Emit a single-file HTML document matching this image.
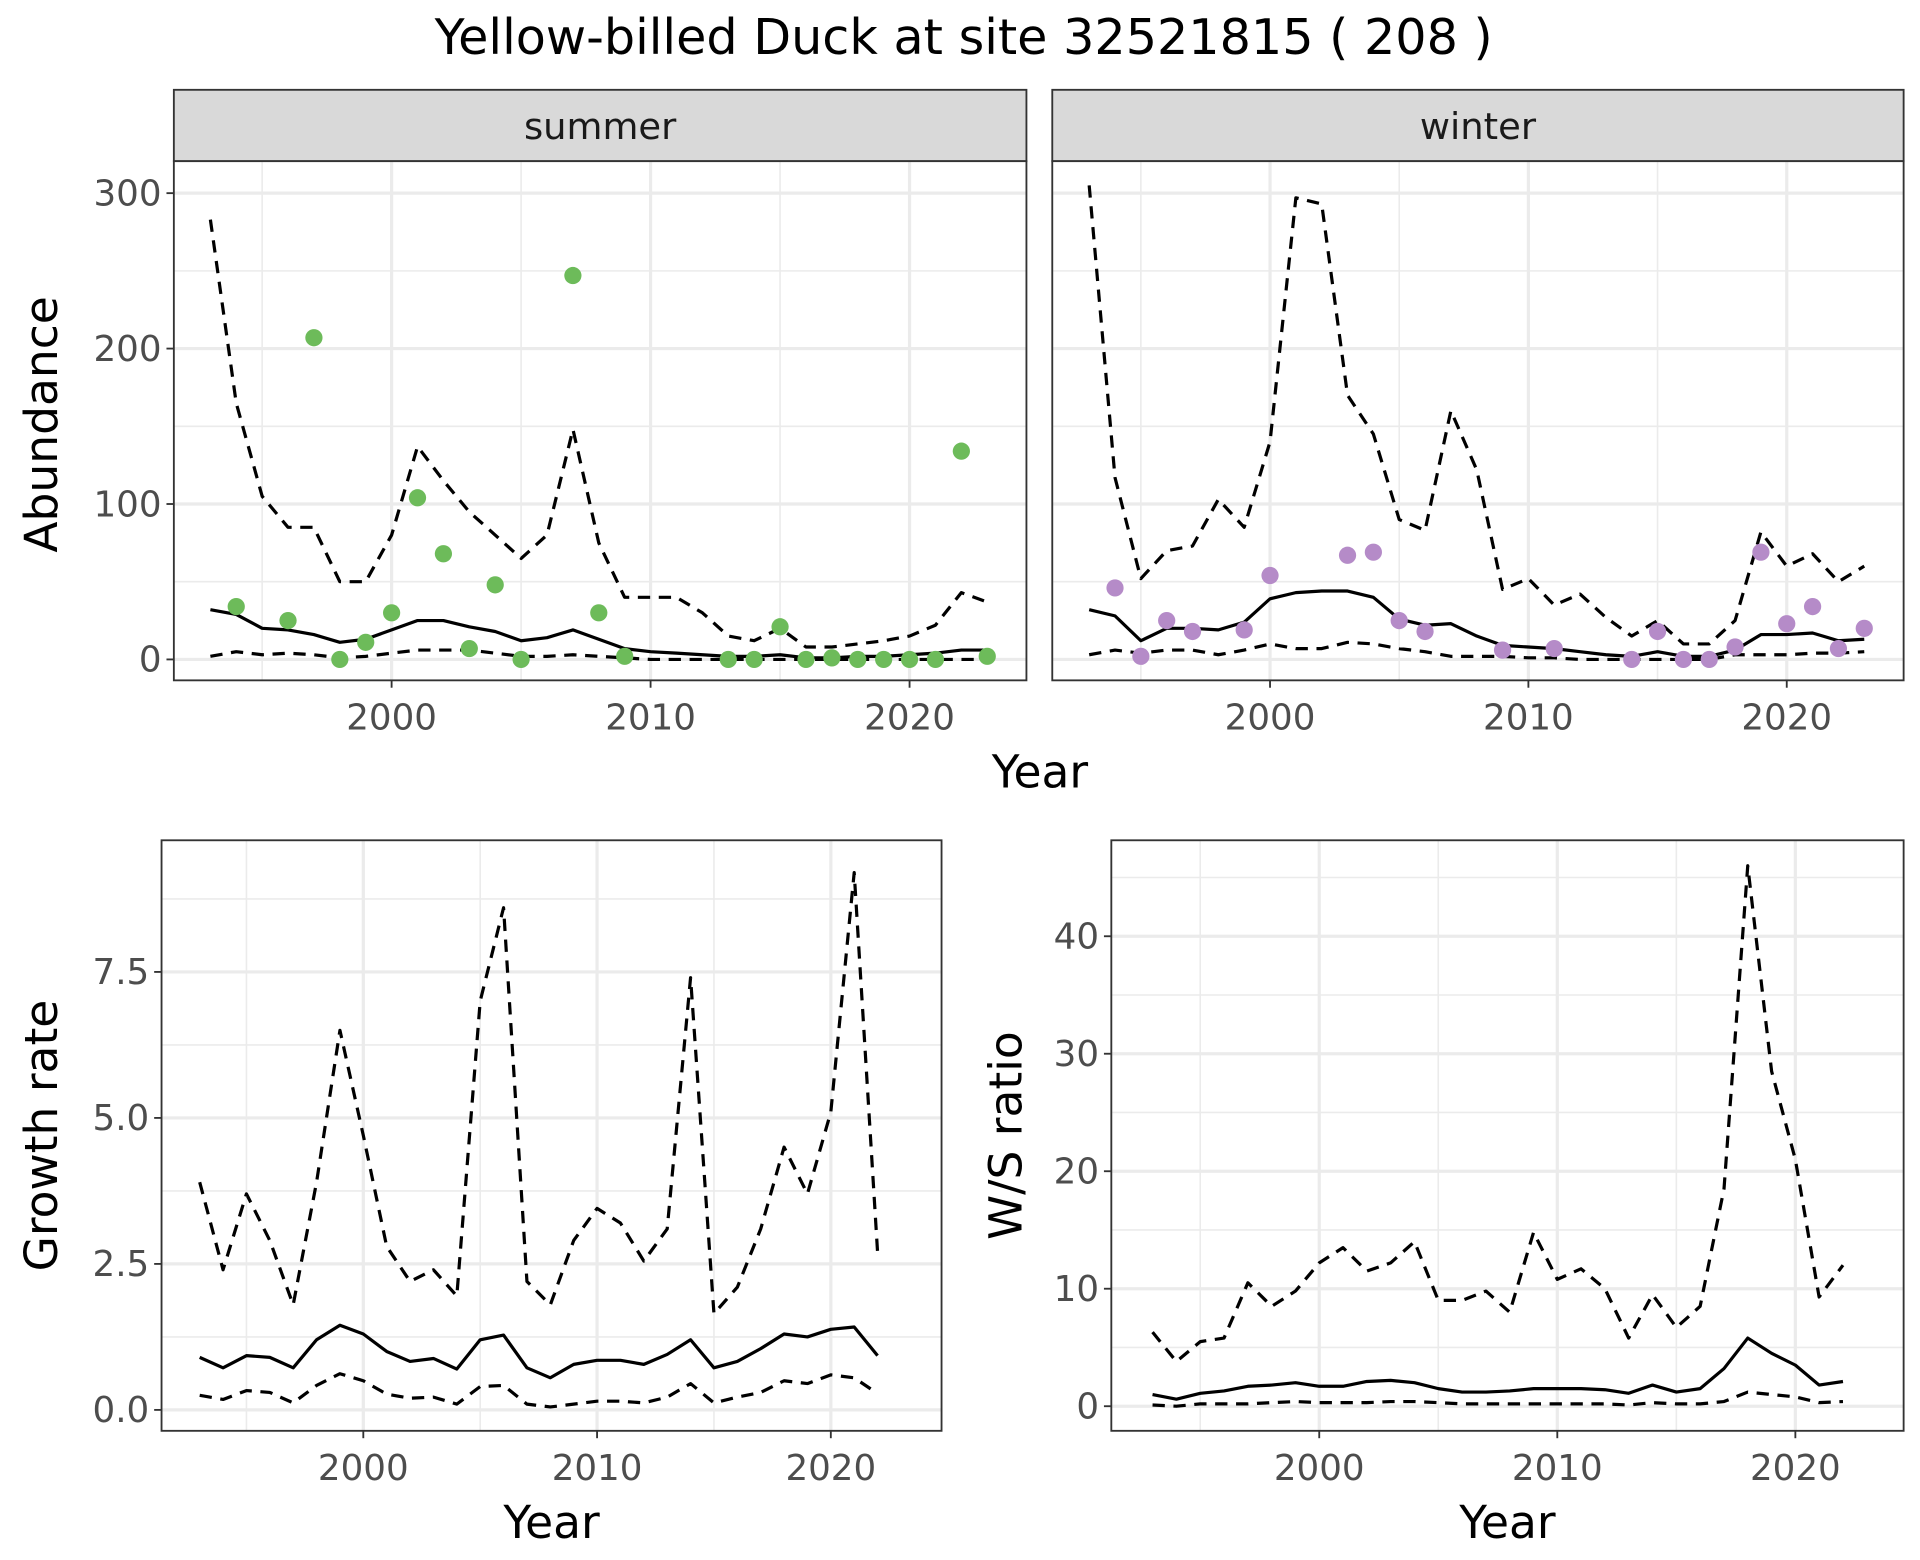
<!DOCTYPE html>
<html><head><meta charset="utf-8"><style>
html,body{margin:0;padding:0;background:#fff;}
svg{display:block;font-family:"DejaVu Sans","Liberation Sans",sans-serif;}
</style></head><body>
<svg id="chart" width="1920" height="1560" viewBox="0 0 1560 1268">
<text x="783" y="44" font-size="40" text-anchor="middle" fill="#000">Yellow-billed Duck at site 32521815 ( 208 )</text>
</svg>
<script>
const NS="http://www.w3.org/2000/svg";
const svg=document.getElementById('chart');
// ---- data ----
const yearsFull=[1993,1994,1995,1996,1997,1998,1999,2000,2001,2002,2003,2004,2005,2006,2007,2008,2009,2010,2011,2012,2013,2014,2015,2016,2017,2018,2019,2020,2021,2022,2023];
const summerUpper=[283,165,105,85,85,50,50,80,137,115,95,80,65,80,148,75,40,40,40,30,15,12,20,8,8,10,12,15,22,43,37];
const summerMean=[32,29,20,19,16,11,13,19,25,25,21,18,12,14,19,13,7,5,4,3,2,2,3,1,1,2,2,3,4,6,6];
const summerLower=[2,5,3,4,3,1,2,4,6,6,6,4,2,2,3,2,1,0,0,0,0,0,0,0,0,0,0,0,0,0,0];
const summerPtYears=[1994,1996,1997,1998,1999,2000,2001,2002,2003,2004,2005,2007,2008,2009,2013,2014,2015,2016,2017,2018,2019,2020,2021,2022,2023];
const summerPtVals=[34,25,207,0,11,30,104,68,7,48,0,247,30,2,0,0,21,0,1,0,0,0,0,134,2];
const winterUpper=[305,117,52,70,73,103,85,140,297,293,170,145,90,83,160,122,45,52,35,42,27,15,25,10,10,25,82,60,68,50,60];
const winterMean=[32,28,12,20,20,19,24,39,43,44,44,40,26,22,23,15,9,8,7,5,3,2,5,2,2,6,16,16,17,12,13];
const winterLower=[3,6,4,6,6,3,6,10,7,7,11,10,7,5,2,2,2,1,1,0,0,0,0,0,0,3,3,3,4,4,5];
const winterPtYears=[1994,1995,1996,1997,1999,2000,2003,2004,2005,2006,2009,2011,2014,2015,2016,2017,2018,2019,2020,2021,2022,2023];
const winterPtVals=[46,2,25,18,19,54,67,69,25,18,6,7,0,18,0,0,8,69,23,34,7,20];
const yearsShort=[1993,1994,1995,1996,1997,1998,1999,2000,2001,2002,2003,2004,2005,2006,2007,2008,2009,2010,2011,2012,2013,2014,2015,2016,2017,2018,2019,2020,2021,2022];
const growthUpper=[3.9,2.4,3.7,2.9,1.8,3.9,6.5,4.7,2.8,2.2,2.4,1.95,7.0,8.6,2.2,1.8,2.9,3.45,3.2,2.55,3.1,7.4,1.65,2.1,3.1,4.5,3.7,5.1,9.2,2.7];
const growthMean=[0.9,0.72,0.93,0.9,0.72,1.2,1.45,1.3,1.0,0.83,0.88,0.7,1.2,1.28,0.72,0.55,0.78,0.85,0.85,0.78,0.95,1.2,0.72,0.83,1.05,1.3,1.25,1.38,1.42,0.93];
const growthLower=[0.25,0.18,0.33,0.3,0.12,0.42,0.62,0.5,0.27,0.2,0.22,0.1,0.4,0.42,0.1,0.05,0.1,0.15,0.15,0.12,0.22,0.45,0.12,0.22,0.3,0.5,0.45,0.6,0.55,0.28];
const ratioUpper=[6.3,3.8,5.5,5.8,10.5,8.5,9.8,12.2,13.5,11.5,12.2,14,9,9,9.8,8,14.8,10.8,11.7,10,5.8,9.5,6.7,8.5,18.5,46,28.5,21,9.3,12];
const ratioMean=[1,0.6,1.1,1.3,1.7,1.8,2,1.7,1.7,2.1,2.2,2,1.5,1.2,1.2,1.3,1.5,1.5,1.5,1.4,1.1,1.8,1.2,1.5,3.2,5.8,4.5,3.5,1.8,2.1];
const ratioLower=[0.1,0,0.2,0.2,0.2,0.3,0.4,0.3,0.3,0.3,0.4,0.4,0.3,0.2,0.2,0.2,0.2,0.2,0.2,0.2,0.1,0.3,0.2,0.2,0.4,1.2,1,0.8,0.3,0.4];
const xTicks=[2000,2010,2020];
const xMinor=[1995,2005,2015];
const abTicks=[0,100,200,300];
const abMinor=[50,150,250];
const grTicks=[0,2.5,5,7.5];
const grTickLabels=["0.0","2.5","5.0","7.5"];
const grMinor=[1.25,3.75,6.25,8.75];
const raTicks=[0,10,20,30,40];
const raMinor=[5,15,25,35,45];

function el(tag,attrs,name,parent){const e=document.createElementNS(NS,tag);for(const k in attrs)e.setAttribute(k,attrs[k]);


(parent||svg).appendChild(e);return e;}
function txt(x,y,s,size,anchor,fill,name,rot){const t=el('text',{x:x,y:y,'font-size':size,'text-anchor':anchor,fill:fill},name);t.textContent=s;if(rot)t.setAttribute('transform',`rotate(-90 ${x} ${y})`);return t;}

function panel(p){
  const {x0,x1,y0,y1,xs,ys,name}=p;
  el('rect',{x:x0,y:y0,width:x1-x0,height:y1-y0,fill:'#fff'},name+'-background');
  p.minY.forEach(v=>{const y=ys(v);if(y>y0&&y<y1)el('line',{x1:x0,x2:x1,y1:y,y2:y,stroke:'#EBEBEB','stroke-width':1.3},name+'-minor-gridline');});
  xMinor.forEach(v=>{const x=xs(v);el('line',{x1:x,x2:x,y1:y0,y2:y1,stroke:'#EBEBEB','stroke-width':1.3},name+'-minor-gridline');});
  p.majY.forEach(v=>{const y=ys(v);el('line',{x1:x0,x2:x1,y1:y,y2:y,stroke:'#EBEBEB','stroke-width':2.6},name+'-major-gridline');});
  xTicks.forEach(v=>{const x=xs(v);el('line',{x1:x,x2:x,y1:y0,y2:y1,stroke:'#EBEBEB','stroke-width':2.6},name+'-major-gridline');});
  const line=(xsArr,vals,dash,nm)=>{const d=vals.map((v,i)=>(i?'L':'M')+xs(xsArr[i]).toFixed(1)+','+ys(v).toFixed(1)).join(' ');
    const a={d:d,fill:'none',stroke:'#000','stroke-width':2.6,'stroke-linejoin':'round'};if(dash)a['stroke-dasharray']='10,7';el('path',a,name+'-'+nm);};
  p.lines.forEach(l=>line(l[0],l[1],l[2],l[3]));
  if(p.pts){p.pts[0].forEach((yr,i)=>el('circle',{cx:xs(yr),cy:ys(p.pts[1][i]),r:7,fill:p.ptColor},name+'-observed-point'));}
  el('rect',{x:x0,y:y0,width:x1-x0,height:y1-y0,fill:'none',stroke:'#333','stroke-width':1.5},name+'-border');
  if(p.showY){p.majY.forEach((v,i)=>{const y=ys(v);el('line',{x1:x0-6,x2:x0,y1:y,y2:y,stroke:'#333','stroke-width':1.5},name+'-y-tick');
    txt(x0-10,y+10,p.yLabels[i],29,'end','#4D4D4D',name+'-y-tick-label');});}
  xTicks.forEach(v=>{const x=xs(v);el('line',{x1:x,x2:x,y1:y1,y2:y1+6,stroke:'#333','stroke-width':1.5},name+'-x-tick');
    txt(x,y1+40,String(v),29,'middle','#4D4D4D',name+'-x-tick-label');});
}
function lin(a0,p0,a1,p1){return v=>p0+(v-a0)*(p1-p0)/(a1-a0);}

// top panels
const abY=lin(0,536,300,157);
[['summer',141,834,lin(2000,318,2020,739),summerUpper,summerMean,summerLower,summerPtYears,summerPtVals,'#6DBB5A',true],
 ['winter',855,1547,lin(2000,1032,2020,1452),winterUpper,winterMean,winterLower,winterPtYears,winterPtVals,'#B58BC8',false]].forEach(c=>{
  el('rect',{x:c[1],y:73,width:c[2]-c[1],height:58,fill:'#D9D9D9',stroke:'#333','stroke-width':1.5},c[0]+'-strip');
  txt((c[1]+c[2])/2,113,c[0],30,'middle','#1A1A1A',c[0]+'-strip-label');
  panel({name:c[0]+'-panel',x0:c[1],x1:c[2],y0:131,y1:553,xs:c[3],ys:abY,majY:abTicks,minY:abMinor,yLabels:abTicks.map(String),showY:c[10],
    lines:[[yearsFull,c[4],true,'upper-line'],[yearsFull,c[5],false,'mean-line'],[yearsFull,c[6],true,'lower-line']],pts:[c[7],c[8]],ptColor:c[9]});
});
txt(845,640,'Year',37,'middle','#000','top-x-axis-title');
txt(46,345,'Abundance',37,'middle','#000','abundance-y-axis-title',true);

panel({name:'growth-panel',x0:131,x1:765,y0:683,y1:1163,xs:lin(2000,295,2020,675),ys:lin(0,1146,7.5,790),majY:grTicks,minY:grMinor,yLabels:grTickLabels,showY:true,
  lines:[[yearsShort,growthUpper,true,'upper-line'],[yearsShort,growthMean,false,'mean-line'],[yearsShort,growthLower,true,'lower-line']]});
txt(448,1250,'Year',37,'middle','#000','growth-x-axis-title');
txt(46,923,'Growth rate',37,'middle','#000','growth-y-axis-title',true);

panel({name:'ratio-panel',x0:903,x1:1547,y0:683,y1:1163,xs:lin(2000,1072,2020,1459),ys:lin(0,1143,40,761),majY:raTicks,minY:raMinor,yLabels:raTicks.map(String),showY:true,
  lines:[[yearsShort,ratioUpper,true,'upper-line'],[yearsShort,ratioMean,false,'mean-line'],[yearsShort,ratioLower,true,'lower-line']]});
txt(1225,1250,'Year',37,'middle','#000','ratio-x-axis-title');
txt(830,923,'W/S ratio',37,'middle','#000','ratio-y-axis-title',true);
</script>
</body></html>
